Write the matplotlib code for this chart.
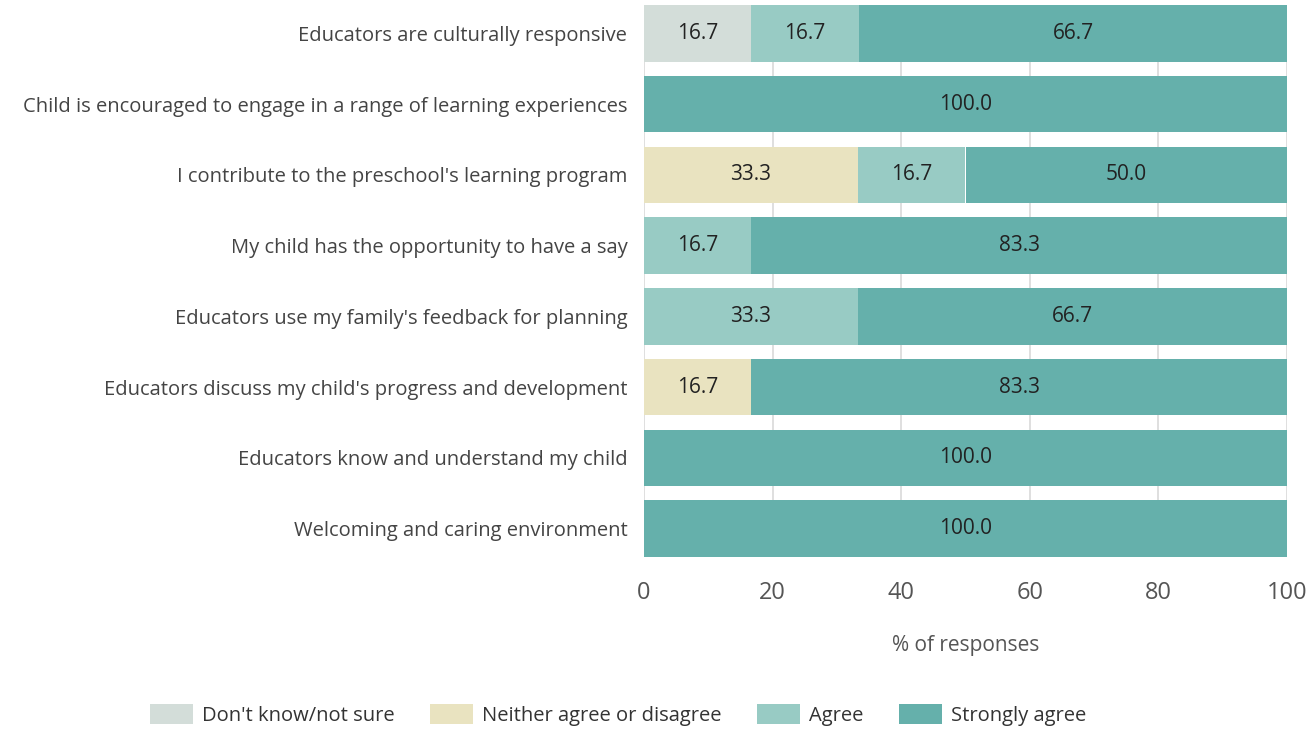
import matplotlib
matplotlib.use("Agg")
import matplotlib.pyplot as plt
from matplotlib.patches import Patch
import numpy as np

plt.rcParams['font.family'] = ['Open Sans', 'DejaVu Sans']

categories = [
    "Educators are culturally responsive",
    "Child is encouraged to engage in a range of learning experiences",
    "I contribute to the preschool's learning program",
    "My child has the opportunity to have a say",
    "Educators use my family's feedback for planning",
    "Educators discuss my child's progress and development",
    "Educators know and understand my child",
    "Welcoming and caring environment",
]
series_names = ["Don't know/not sure", "Neither agree or disagree", "Agree", "Strongly agree"]
dont_know = [16.7, 0, 0, 0, 0, 0, 0, 0]
neither = [0, 0, 33.3, 0, 0, 16.7, 0, 0]
agree = [16.7, 0, 16.7, 16.7, 33.3, 0, 0, 0]
strongly = [66.7, 100.0, 50.0, 83.3, 66.7, 83.3, 100.0, 100.0]
colors = ["#d3ddd9", "#e9e3c0", "#98cbc4", "#65b0ab"]
xticks = [0, 20, 40, 60, 80, 100]

fig = plt.figure(figsize=(13.11, 7.32), dpi=100)
ax = fig.add_axes([644/1311, 1-557/732, (1287-644)/1311, (557-5)/732])

y = np.arange(len(categories))
left = np.zeros(len(categories))
for vals, col, name in zip([dont_know, neither, agree, strongly], colors, series_names):
    vals = np.array(vals)
    ax.barh(y, vals, left=left, color=col, height=0.8, label=name, zorder=2)
    for yi, v, l in zip(y, vals, left):
        if v > 0:
            ax.text(l + v/2, yi, f"{v:.1f}", ha='center', va='center', fontsize=15, color='#222222', zorder=3)
    left += vals

ax.set_ylim(7.4, -0.4)
ax.set_xlim(0, 100)
ax.set_yticks(y)
ax.set_yticklabels(categories, fontsize=14.5, color='#444444')
ax.set_xticks(xticks)
ax.set_xticklabels([str(t) for t in xticks], fontsize=17, color='#555555')
ax.tick_params(axis='both', length=0)
ax.tick_params(axis='x', pad=17)
ax.tick_params(axis='y', pad=12)
ax.grid(axis='x', color='#d9d9d9', linewidth=1.2, zorder=0)
for s in ax.spines.values():
    s.set_visible(False)
ax.set_xlabel("% of responses", fontsize=15, color='#555555', labelpad=22)

handles = [Patch(facecolor=c, label=n) for c, n in zip(colors, series_names)]
fig.legend(handles=handles, loc='center', bbox_to_anchor=(618/1311, 1-715/732), ncol=4,
           frameon=False, fontsize=14.5, handlelength=2.15, handleheight=1.1, handletextpad=0.45,
           columnspacing=1.75, labelcolor='#333333')

fig.savefig("out.png", dpi=100)
